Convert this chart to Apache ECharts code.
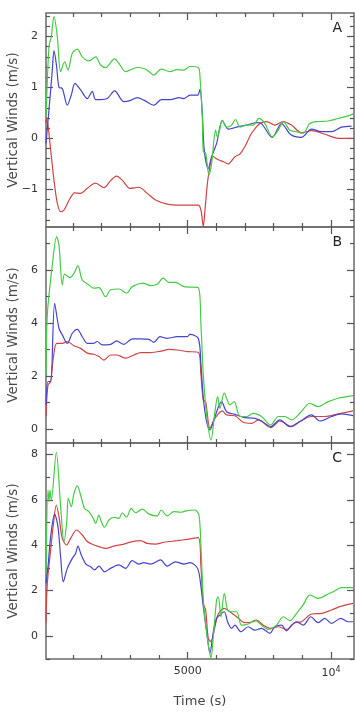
<!DOCTYPE html>
<html>
<head>
<meta charset="utf-8">
<script src="https://cdn.jsdelivr.net/npm/echarts@6/dist/echarts.min.js"></script>
<style>
  html, body { margin: 0; padding: 0; background: #fff; }
  #chart { width: 355px; height: 714px; }
</style>
</head>
<body>
<div id="chart"></div>
<script>
// time axis (s)
const X_MIN = 60, X_MAX = 10800;
const xLabelTicks = [5000, 10000];
const xMinorTicks = [1000, 2000, 3000, 4000, 6000, 7000, 8000, 9000];

// panel A  [time, m/s]
const aGreen = [[60,0.4],[164,1.8],[245,2.0],[338,2.39],[454,2.0],[570,1.31],[710,1.5],[826,1.34],[977,1.67],[1151,1.75],[1325,1.6],[1557,1.52],[1790,1.6],[1964,1.44],[2138,1.39],[2452,1.56],[2603,1.47],[2835,1.31],[3032,1.35],[3241,1.39],[3474,1.37],[3648,1.31],[3822,1.24],[4077,1.36],[4379,1.31],[4635,1.35],[4867,1.34],[5080,1.41],[5370,1.39],[5429,1.21],[5510,0.42],[5545,-0.26],[5626,-0.29],[5742,-0.72],[5835,-0.49],[5974,0.16],[6032,0.03],[6102,0.13],[6207,0.36],[6358,0.22],[6532,0.26],[6671,0.37],[6822,0.22],[7054,0.26],[7287,0.26],[7484,0.39],[7693,0.29],[7949,0.03],[8158,0.16],[8332,0.33],[8564,0.16],[8797,0.13],[9028,0.1],[9261,0.29],[9551,0.33],[9900,0.34],[10248,0.39],[10596,0.44],[10770,0.48]];
const aBlue = [[60,-0.1],[164,0.56],[280,1.34],[338,1.72],[431,1.41],[512,1.0],[628,0.98],[803,0.65],[942,0.85],[1070,1.08],[1267,0.95],[1499,0.78],[1673,0.92],[1790,0.76],[1987,0.76],[2196,0.78],[2452,0.93],[2777,0.72],[2986,0.74],[3241,0.8],[3474,0.75],[3822,0.65],[4077,0.76],[4403,0.76],[4693,0.8],[4867,0.78],[5080,0.85],[5347,0.85],[5429,0.96],[5510,0.49],[5579,-0.23],[5719,-0.59],[5835,-0.36],[6009,-0.1],[6207,0.35],[6416,0.18],[6764,0.23],[7054,0.26],[7403,0.31],[7577,0.29],[7949,0.02],[8274,0.29],[8599,0.07],[8971,0.02],[9319,0.18],[9667,0.13],[10016,0.13],[10364,0.22],[10713,0.24]];
const aRed = [[60,0.3],[83,0.39],[222,-0.23],[338,-0.82],[454,-1.27],[570,-1.44],[686,-1.41],[861,-1.22],[1058,-1.07],[1267,-1.08],[1499,-0.98],[1790,-0.88],[2080,-0.97],[2312,-0.83],[2521,-0.74],[2719,-0.82],[2986,-0.98],[3299,-0.96],[3590,-1.08],[3880,-1.21],[4287,-1.29],[4751,-1.31],[5370,-1.31],[5463,-1.41],[5545,-1.73],[5603,-1.41],[5719,-0.75],[5893,-0.36],[6067,-0.42],[6241,-0.46],[6416,-0.5],[6648,-0.36],[6822,-0.31],[6996,-0.16],[7229,0.1],[7519,0.29],[7751,0.33],[8042,0.26],[8332,0.33],[8622,0.26],[8971,0.11],[9319,0.15],[9784,0.08],[10248,0.0],[10770,0.0]];

// panel B
const bGreen = [[60,2.0],[106,4.3],[280,6.19],[431,7.26],[512,6.94],[628,5.43],[710,5.84],[895,5.71],[1035,5.87],[1174,6.16],[1325,5.62],[1557,5.43],[1732,5.31],[1906,5.33],[2138,4.99],[2312,5.25],[2603,5.28],[2870,5.12],[3067,5.37],[3450,5.5],[3706,5.41],[3938,5.46],[4147,5.69],[4345,5.53],[4577,5.53],[4867,5.37],[5370,5.33],[5463,3.92],[5545,2.04],[5661,0.53],[5812,-0.42],[5951,0.65],[6044,1.22],[6125,0.78],[6276,1.35],[6474,0.91],[6625,1.03],[6822,0.47],[7054,0.47],[7287,0.59],[7577,0.47],[7902,0.15],[8158,0.47],[8390,0.47],[8622,0.34],[8912,0.59],[9261,0.97],[9551,0.84],[9900,1.03],[10248,1.16],[10770,1.26]];
const bBlue = [[60,0.9],[129,1.79],[222,1.79],[361,4.74],[512,3.8],[628,3.55],[803,3.23],[977,3.61],[1151,3.76],[1325,3.48],[1499,3.23],[1709,3.23],[1848,3.3],[2022,3.17],[2312,3.19],[2521,3.32],[2777,3.19],[3067,3.4],[3358,3.4],[3648,3.38],[3822,3.27],[4031,3.48],[4287,3.42],[4635,3.48],[4984,3.48],[5080,3.57],[5370,3.42],[5463,2.42],[5545,1.16],[5661,0.28],[5777,-0.04],[5951,0.47],[6183,1.03],[6358,0.65],[6648,0.55],[6996,0.43],[7345,0.4],[7577,0.3],[7902,0.09],[8216,0.34],[8564,0.09],[8912,0.28],[9319,0.53],[9609,0.3],[10016,0.47],[10364,0.57],[10770,0.5]];
const bRed = [[60,0.47],[129,1.66],[222,1.79],[315,2.67],[431,3.23],[628,3.23],[803,3.3],[1035,3.14],[1267,3.04],[1499,2.86],[1732,2.82],[1906,2.73],[2080,2.6],[2312,2.79],[2545,2.79],[2835,2.67],[3125,2.79],[3358,2.88],[3706,2.88],[4077,2.94],[4345,3.0],[4635,2.98],[4984,2.92],[5370,2.89],[5463,2.04],[5545,1.09],[5626,1.03],[5777,0.03],[5951,0.4],[6207,0.68],[6358,0.53],[6648,0.5],[6938,0.25],[7229,0.21],[7461,0.34],[7902,0.05],[8216,0.3],[8622,0.09],[8912,0.28],[9319,0.47],[9784,0.47],[10248,0.57],[10770,0.68]];

// panel C
const cGreen = [[60,2.76],[129,6.43],[164,5.92],[199,6.43],[245,5.99],[419,8.09],[570,5.7],[686,4.16],[779,4.96],[837,6.06],[942,5.7],[1035,6.28],[1151,6.61],[1267,6.21],[1406,5.62],[1557,5.48],[1708,5.18],[1790,4.96],[1906,5.33],[1987,5.04],[2103,4.79],[2254,5.11],[2428,5.23],[2603,5.18],[2719,5.43],[2870,5.23],[3032,5.62],[3183,5.43],[3416,5.59],[3648,5.37],[3938,5.29],[4077,5.55],[4287,5.29],[4519,5.48],[4751,5.45],[4984,5.52],[5254,5.55],[5394,5.33],[5463,3.94],[5545,1.59],[5638,0.41],[5742,-0.54],[5812,-0.98],[5893,-0.03],[6009,1.59],[6067,1.73],[6160,0.85],[6276,1.88],[6393,1.15],[6532,1.07],[6706,1.07],[6880,0.48],[7112,0.53],[7345,0.7],[7577,0.48],[7809,0.29],[8100,0.48],[8332,0.85],[8564,0.68],[8797,1.0],[9028,1.37],[9261,1.81],[9551,1.66],[9900,1.85],[10074,1.95],[10364,2.13],[10770,2.13]];
const cBlue = [[60,2.32],[129,3.05],[222,4.38],[361,5.37],[477,4.82],[570,3.49],[663,2.39],[803,2.98],[977,3.42],[1093,3.64],[1174,3.96],[1290,3.57],[1453,3.17],[1616,3.05],[1755,2.91],[1906,3.08],[2103,2.83],[2312,2.98],[2603,3.13],[2835,2.98],[3067,3.32],[3299,3.17],[3474,3.23],[3706,3.17],[4054,3.35],[4287,3.08],[4577,3.27],[4867,3.17],[5080,3.23],[5347,2.98],[5463,2.17],[5545,1.29],[5661,0.19],[5777,-0.76],[5893,0.19],[6009,0.78],[6125,0.93],[6276,1.07],[6393,0.63],[6532,0.34],[6648,0.48],[6857,0.19],[7112,0.41],[7345,0.26],[7577,0.34],[7867,0.12],[8042,0.41],[8274,0.48],[8448,0.23],[8622,0.48],[8797,0.63],[9028,0.48],[9296,0.85],[9551,0.59],[9784,0.78],[10016,0.56],[10341,0.78],[10596,0.63],[10770,0.63]];
const cRed = [[60,0.59],[106,2.32],[222,3.79],[315,4.89],[419,5.77],[512,5.26],[628,4.3],[779,4.01],[919,4.3],[1128,4.67],[1325,4.45],[1499,4.16],[1732,4.01],[1906,3.94],[2138,3.86],[2428,3.96],[2777,4.05],[3067,4.16],[3358,4.2],[3590,4.08],[3880,4.05],[4170,4.13],[4635,4.2],[4984,4.26],[5370,4.33],[5463,3.05],[5545,1.44],[5626,1.15],[5719,-0.1],[5812,-0.25],[5951,0.41],[6067,0.97],[6276,1.22],[6474,1.07],[6706,0.85],[6996,0.59],[7287,0.63],[7403,0.7],[7635,0.48],[7867,0.34],[8158,0.41],[8448,0.29],[8739,0.59],[8971,0.63],[9319,0.97],[9667,1.0],[10016,1.15],[10364,1.32],[10770,1.44]];

// y tick labels per panel
const aYLabels = [-1, 0, 1, 2];
const aYMinor = [-1.6,-1.4,-1.2,-0.8,-0.6,-0.4,-0.2,0.2,0.4,0.6,0.8,1.2,1.4,1.6,1.8,2.2,2.4];
const bYLabels = [0, 2, 4, 6];
const bYMinor = [1, 3, 5, 7];
const cYLabels = [0, 2, 4, 6, 8];
const cYMinor = [-1, 1, 3, 5, 7];

const COLORS = { red: '#cf4545', blue: '#4545cc', green: '#45cc45' };
const TICK = '#555';
const FONT = 'DejaVu Sans';

const panels = [
  { letter: 'A', top: 13, height: 214, yMin: -1.74, yMax: 2.46, yLabels: aYLabels, yMinor: aYMinor, red: aRed, blue: aBlue, green: aGreen },
  { letter: 'B', top: 227, height: 216, yMin: -0.53, yMax: 7.62, yLabels: bYLabels, yMinor: bYMinor, red: bRed, blue: bBlue, green: bGreen },
  { letter: 'C', top: 443, height: 216, yMin: -1.01, yMax: 8.5, yLabels: cYLabels, yMinor: cYMinor, red: cRed, blue: cBlue, green: cGreen }
];

const grid = [], xAxis = [], yAxis = [], series = [], title = [];

panels.forEach(function (p, i) {
  const last = i === panels.length - 1;
  grid.push({ left: 46, right: 1, top: p.top, height: p.height, show: true,
    containLabel: false, outerBoundsMode: 'none',
    borderColor: '#6a6a6a', borderWidth: 1.5 });

  const xb = { type: 'value', gridIndex: i, min: X_MIN, max: X_MAX, splitLine: { show: false }, axisLine: { show: false, onZero: false } };
  ['bottom', 'top'].forEach(function (pos) {
    xAxis.push(Object.assign({}, xb, {
      position: pos,
      axisTick: { inside: true, length: 7, customValues: xLabelTicks, lineStyle: { color: TICK, width: 1.2 } },
      axisLabel: { show: last && pos === 'bottom', customValues: xLabelTicks, color: '#333', fontFamily: FONT, fontSize: 11, margin: 7,
        formatter: function (v) { return v === 10000 ? '10{sup|4}' : String(v); },
        rich: { sup: { fontSize: 8, verticalAlign: 'top', padding: [0, 0, 6, 0], color: '#333', fontFamily: FONT } } },
      name: last && pos === 'bottom' ? 'Time (s)' : '', nameLocation: 'middle', nameGap: 36,
      nameTextStyle: { color: '#444', fontFamily: FONT, fontSize: 13 }
    }));
    xAxis.push(Object.assign({}, xb, {
      position: pos,
      axisTick: { inside: true, length: 4, customValues: xMinorTicks, lineStyle: { color: TICK, width: 1.2 } },
      axisLabel: { show: false }
    }));
  });

  const yb = { type: 'value', gridIndex: i, min: p.yMin, max: p.yMax, splitLine: { show: false }, axisLine: { show: false, onZero: false } };
  ['left', 'right'].forEach(function (pos) {
    yAxis.push(Object.assign({}, yb, {
      position: pos,
      axisTick: { inside: true, length: 7, customValues: p.yLabels, lineStyle: { color: TICK, width: 1.2 } },
      axisLabel: { show: pos === 'left', customValues: p.yLabels, color: '#333', fontFamily: FONT, fontSize: 11, margin: 8,
        formatter: function (v) { return v < 0 ? '\u2212' + Math.abs(v) : String(v); } },
      name: pos === 'left' ? 'Vertical Winds (m/s)' : '', nameLocation: 'middle', nameGap: 26, nameMoveOverlap: false,
      nameTextStyle: { color: '#4a4a4a', fontFamily: FONT, fontSize: 13.5 }
    }));
    yAxis.push(Object.assign({}, yb, {
      position: pos,
      axisTick: { inside: true, length: 4, customValues: p.yMinor, lineStyle: { color: TICK, width: 1.2 } },
      axisLabel: { show: false }
    }));
  });

  ['red', 'blue', 'green'].forEach(function (c) {
    series.push({ type: 'line', xAxisIndex: i * 4, yAxisIndex: i * 4, data: p[c], smooth: 0.3,
      showSymbol: false, lineStyle: { color: COLORS[c], width: 1.2 }, itemStyle: { color: COLORS[c] } });
  });

  title.push({ text: p.letter, right: 8, top: p.top + 3,
    textStyle: { fontFamily: FONT, fontSize: 14, fontWeight: 'normal', color: '#222' } });
});

const chart = echarts.init(document.getElementById('chart'));
chart.setOption({
  animation: false,
  backgroundColor: '#fff',
  title: title,
  grid: grid,
  xAxis: xAxis,
  yAxis: yAxis,
  series: series
});
</script>
</body>
</html>
